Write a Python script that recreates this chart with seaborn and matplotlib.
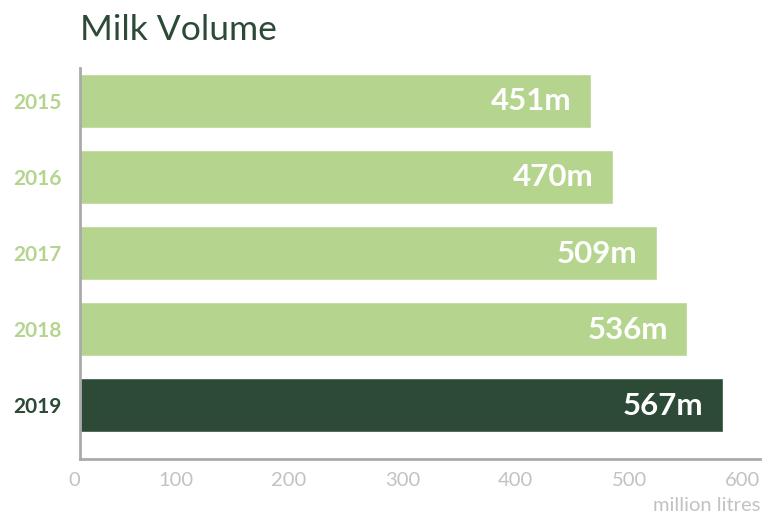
import matplotlib
matplotlib.use("Agg")
import matplotlib.pyplot as plt
import seaborn as sns
import pandas as pd

years = ["2015", "2016", "2017", "2018", "2019"]
volumes = [451, 470, 509, 536, 567]
labels = ["451m", "470m", "509m", "536m", "567m"]
x_ticks = [0, 100, 200, 300, 400, 500, 600]
title = "Milk Volume"
unit = "million litres"

LIGHT = "#b5d58f"
DARK = "#2c4a36"
GREY = "#aaaaaa"
TICKTXT = "#c2c2c2"

sns.set_style("white")
plt.rcParams["font.family"] = ["Lato", "DejaVu Sans"]

df = pd.DataFrame({"year": years, "volume": volumes})
colors = [LIGHT] * (len(years) - 1) + [DARK]
palette = dict(zip(years, colors))

fig = plt.figure(figsize=(7.63, 5.16), dpi=100)
ax = fig.add_axes([80 / 763, 1 - 459 / 516, 680 / 763, (459 - 68) / 516])

sns.barplot(data=df, x="volume", y="year", hue="year", palette=palette,
            legend=False, width=0.71, saturation=1, ax=ax, orient="h")

ax.set_xlim(0, 600)
ax.set_ylim(4.71, -0.43)
ax.set_xticks(x_ticks)
ax.set_xticklabels([str(t) for t in x_ticks], ha="right")
ax.set_xlabel("")
ax.set_ylabel("")

for s in ["top", "right"]:
    ax.spines[s].set_visible(False)
for s in ["left", "bottom"]:
    ax.spines[s].set_color(GREY)
    ax.spines[s].set_linewidth(2)

ax.tick_params(axis="x", direction="in", length=7, width=2, color=GREY,
               labelsize=14.5, labelcolor=TICKTXT, pad=9)
ax.tick_params(axis="y", length=0, pad=13, labelsize=15)
for lab, c in zip(ax.get_yticklabels(), colors):
    lab.set_color(c)
    lab.set_fontweight("bold")

for i, (v, l) in enumerate(zip(volumes, labels)):
    ax.annotate(l, xy=(v, i), xytext=(-14, -0.5), textcoords="offset points",
                ha="right", va="center", color="white", fontsize=22.5,
                fontweight="bold")

fig.text(80 / 763, 1 - 40 / 516, title, fontsize=25.5, color=DARK,
         ha="left", va="baseline")
fig.text(760 / 763, 1 - 511 / 516, unit, fontsize=14.5, color=TICKTXT,
         ha="right", va="baseline")

fig.savefig("out.png", dpi=100)
